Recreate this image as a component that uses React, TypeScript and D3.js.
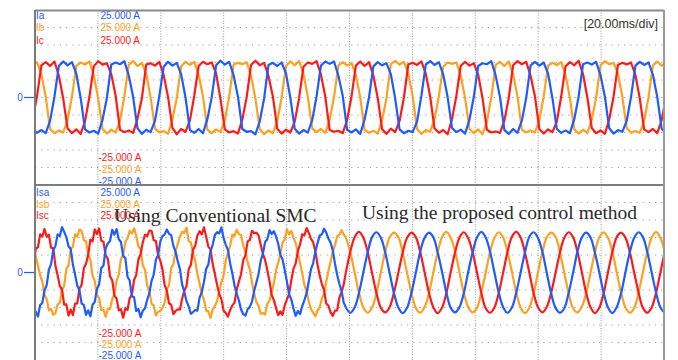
import * as d3 from "d3";

// scope screenshot: 20 ms/div, 10 divisions, +-25 A full scale per panel
const width = 678;
const height = 360;
const timeSpanMs = [0, 200];
const ampRange = [-25, 25];
const sampleIntervalMs = 1000 / 720; // 12 samples per 60 Hz cycle
const smcIntervalMs = sampleIntervalMs / 2; // noisy part sampled finer
const topStartMs = -0.75;
const bottomStartMs = -1.14;
const switchIndex = 72; // conventional SMC -> proposed control (in 12/cycle samples)

const blue = "#1f5bff";
const orange = "#ffa01e";
const red = "#ff1a1a";

const topNames = ["Ia", "Ib", "Ic"];
const bottomNames = ["Isa", "Isb", "Isc"];
const rangeLabel = "25.000 A";
const timeLabel = "[20.00ms/div]";
const noteLeft = "Using Conventional SMC";
const noteRight = "Using the proposed control method";

// load currents (A)
const iaTop = [
  -9.0, -10.1, -9.3, -10.2, -6.6,
  0.3, 9.0, 10.3, 9.2, 10.1, 6.8, -0.2, -9.1, -10.0, -9.5, -10.3, -6.4,
  -0.1, 9.4, 10.0, 9.5, 10.4, 6.3, 0.2, -8.8, -10.4, -9.2, -9.9, -6.7,
  0.4, 8.8, 10.2, 9.1, 9.9, 6.6, 0.0, -9.3, -10.1, -9.0, -10.2, -6.2,
  0.1, 9.2, 10.5, 9.4, 10.2, 6.4, 0.3, -9.0, -9.8, -9.6, -10.5, -6.8,
  -0.2, 9.3, 9.9, 9.0, 10.0, 6.9, -0.1, -8.9, -10.3, -9.3, -10.0, -6.5,
  0.3, 9.1, 10.3, 9.6, 10.3, 6.2, 0.4, -9.2, -10.0, -9.1, -10.4, -6.3,
  0.0, 8.9, 10.1, 9.2, 9.8, 6.7, -0.3, -9.1, -10.2, -9.5, -9.9, -6.9,
  0.5, 9.4, 10.4, 9.3, 10.1, 6.5, 0.2, -8.7, -9.9, -9.2, -10.3, -6.4,
  0.2, 9.0, 9.8, 9.5, 10.4, 6.3, 0.1, -9.3, -10.4, -9.0, -10.1, -6.6,
  -0.1, 9.2, 10.2, 9.1, 10.0, 6.8, -0.2, -9.0, -10.1, -9.4, -10.2, -6.2,
  0.3, 9.5, 10.0, 9.4, 10.2, 6.4, 0.3, -8.8, -10.3, -9.3, -9.8, -6.7,
  0.2, 9.1, 10.2, 9.3, 10.0, 6.5, 0.1, -8.9, -10.2,
];
const ibTop = [
  9.2, 10.1, 6.6, 0.2, -9.0, -10.2, -9.4, -10.0, -6.4,
  0.2, 9.1, 10.0, 9.4, 10.3, 6.3, -0.2, -9.0, -10.3, -9.2, -10.0, -6.7,
  0.4, 9.3, 10.4, 9.0, 9.9, 6.8, 0.1, -8.9, -10.0, -9.6, -10.4, -6.3,
  -0.1, 8.9, 10.2, 9.3, 10.2, 6.5, 0.3, -9.2, -10.2, -9.1, -9.9, -6.5,
  0.3, 9.4, 9.9, 9.5, 10.1, 6.2, -0.3, -9.1, -10.5, -9.4, -10.2, -6.8,
  0.0, 9.0, 10.3, 9.2, 10.4, 6.7, 0.2, -8.8, -9.9, -9.0, -10.1, -6.4,
  0.2, 9.2, 10.1, 9.1, 9.8, 6.4, 0.0, -9.3, -10.1, -9.5, -10.3, -6.6,
  -0.2, 9.5, 10.5, 9.4, 10.2, 6.9, 0.4, -9.0, -10.4, -9.3, -9.8, -6.2,
  0.4, 8.8, 10.0, 9.6, 10.0, 6.3, -0.1, -8.9, -10.2, -9.1, -10.5, -6.9,
  0.1, 9.3, 10.2, 9.0, 10.3, 6.6, 0.3, -9.2, -10.0, -9.4, -10.0, -6.5,
  0.3, 9.1, 9.9, 9.3, 10.1, 6.5, -0.2, -9.1, -10.3, -9.2, -10.2, -6.3,
  -0.1, 9.2, 10.4, 9.5, 9.9, 6.8, 0.2, -8.7, -10.1, -9.6, -10.1, -6.7,
  0.1, 9.2, 10.3, 9.1, 10.0,
];
const icTop = [
  -6.3,
  0.4, 9.2, 10.1, 9.0, 10.3, 6.2, -0.3, -8.8, -10.2, -9.1, -10.4, -6.8,
  0.2, 8.9, 10.4, 9.4, 9.8, 6.7, 0.5, -9.2, -9.9, -9.4, -10.1, -6.1,
  -0.3, 9.4, 9.8, 9.1, 10.2, 6.4, 0.1, -8.7, -10.5, -9.0, -9.8, -6.6,
  0.5, 9.0, 10.2, 9.5, 10.0, 6.9, -0.4, -9.1, -10.0, -9.6, -10.3, -6.3,
  0.1, 9.3, 10.5, 9.2, 9.9, 6.1, 0.3, -8.9, -10.3, -9.2, -10.0, -6.9,
  -0.2, 8.8, 10.0, 9.6, 10.4, 6.6, 0.2, -9.3, -9.8, -9.5, -10.2, -6.4,
  0.3, 9.1, 10.3, 9.0, 10.1, 6.3, -0.1, -9.0, -10.4, -8.9, -9.9, -6.7,
  0.0, 9.5, 9.9, 9.3, 10.3, 6.8, 0.4, -8.8, -10.1, -9.3, -10.5, -6.2,
  0.4, 9.0, 10.2, 9.1, 9.8, 6.5, -0.2, -9.2, -10.0, -9.7, -10.1, -6.6,
  -0.1, 9.2, 10.4, 9.5, 10.2, 6.2, 0.3, -9.0, -10.3, -9.1, -9.9, -6.9,
  0.2, 8.9, 10.1, 9.2, 10.5, 6.7, 0.0, -8.7, -10.2, -9.4, -10.4, -6.3,
  0.3, 9.3, 9.9, 9.4, 10.0, 6.4, -0.3, -9.1, -9.9, -9.0, -10.2, -6.5,
  0.1,
];

// source currents (A) under conventional SMC, 24 samples per cycle
const isaSmc = [
  -9.4, -12.0, -11.2, -12.6, -9.3, -8.7, -5.1, -3.6,
  0.8, 2.4, 6.4, 7.6, 10.9, 10.4, 13.0, 11.6, 10.1, 7.5, 6.7, 2.2, -0.6, -3.8, -5.1, -8.9, -9.3, -12.1, -10.8, -12.5, -9.2, -8.4, -4.7, -3.4,
  1.3, 2.0, 6.9, 8.3, 9.0, 12.2, 10.8, 12.4, 9.5, 8.7, 4.8, 4.1, -1.2, -2.3, -6.8, -7.1, -11.0, -10.4, -12.8, -10.9, -10.2, -7.8, -5.9, -2.4,
  -0.6, 3.7, 4.9, 8.9, 10.4, 10.9, 12.3, 11.1, 10.6, 7.6, 5.9, 3.2, 1.0, -3.4, -5.5, -8.2, -9.7, -11.8, -11.3, -10.7, -10.9, -7.2, -5.6, -2.7,
  1.0, 2.3, 6.1, 7.9, 10.7, 11.5, 11.2, 12.9, 9.8, 7.9, 6.4, 2.6, -0.3, -3.7, -6.0, -8.0, -10.6, -11.9, -12.3, -10.5, -9.8, -8.3, -5.2, -2.9,
  -0.4, 3.4, 5.4, 8.7, 9.5, 12.1, 11.0, 11.8, 10.3, 8.2, 5.0, 3.7, 0.6, -2.6, -6.3, -7.7, -10.3, -12.4, -11.0, -11.9, -9.6, -7.9, -5.9, -2.5,
  0.9, 2.7, 6.0, 8.4, 10.6, 10.9, 12.5, 11.4, 9.7, 8.5, 6.3, 2.5, -0.7, -3.2, -5.3, -8.6, -10.0,
];
const isbSmc = [
  9.1, 7.2, 4.6, 1.9, -0.8, -2.5, -6.4, -7.6, -10.8, -10.4, -12.1, -11.6, -9.1, -8.7, -5.0, -3.8,
  1.1, 2.0, 6.7, 7.4, 10.9, 10.2, 12.3, 11.8, 9.3, 8.9, 5.1, 3.6, -1.0, -2.4, -6.5, -7.3, -10.7, -10.6, -12.7, -10.3, -10.4, -7.6, -6.2, -2.3,
  -0.6, 3.9, 5.0, 8.8, 9.7, 11.9, 11.1, 12.6, 10.5, 7.3, 6.8, 2.1, 0.8, -3.7, -5.2, -8.9, -9.4, -12.3, -11.2, -11.0, -10.1, -8.7, -4.8, -3.7,
  1.3, 2.4, 6.2, 8.1, 10.2, 11.7, 11.3, 12.8, 9.0, 8.6, 5.5, 3.3, -0.5, -3.1, -6.1, -7.8, -10.9, -11.1, -13.0, -10.6, -9.5, -8.2, -5.4, -2.8,
  -0.8, 3.5, 5.6, 7.7, 10.8, 10.5, 12.2, 11.0, 10.7, 7.7, 6.0, 2.9, 0.9, -2.9, -5.9, -8.4, -9.6, -11.8, -11.6, -12.0, -9.0, -8.0, -5.7, -3.1,
  0.7, 2.8, 5.3, 8.6, 9.4, 12.4, 10.9, 11.9, 9.9, 8.4, 5.7, 2.7, -0.2, -3.6, -5.4, -8.3, -10.4, -11.5, -12.5, -10.8, -10.0, -7.4, -6.0, -2.6,
  0.5, 3.1, 5.9, 7.9, 10.3, 10.8, 12.1, 10.9, 10.0,
];
const iscSmc = [
  0.6, 2.1, 6.8, 7.2, 10.9, 10.3, 12.4, 10.2, 10.8, 7.1, 6.9, 1.9, -0.8, -3.9, -4.8, -9.2, -9.1, -12.3, -10.6, -12.2, -8.9, -8.8, -4.6, -3.5,
  1.2, 2.5, 5.1, 9.4, 8.9, 12.3, 11.0, 12.6, 9.1, 8.8, 4.9, 3.9, -1.1, -2.2, -6.6, -7.4, -10.8, -10.5, -12.9, -10.2, -10.7, -7.3, -6.4, -2.1,
  -0.7, 3.8, 5.2, 8.6, 10.8, 10.4, 12.0, 11.9, 9.2, 9.0, 5.0, 3.4, 0.9, -3.6, -5.1, -8.8, -9.2, -11.9, -11.0, -10.5, -10.6, -7.5, -5.2, -3.9,
  0.9, 2.2, 6.5, 7.6, 10.6, 11.8, 10.9, 12.9, 10.3, 7.4, 6.6, 2.4, -0.4, -3.5, -6.2, -7.6, -10.9, -11.6, -12.6, -10.7, -9.4, -8.6, -4.9, -2.6,
  -0.5, 3.6, 4.9, 8.9, 9.3, 11.9, 11.2, 11.4, 10.6, 7.9, 5.2, 3.6, 0.7, -2.4, -6.4, -7.9, -10.1, -12.2, -11.1, -12.1, -9.3, -7.7, -6.1, -2.2,
  1.1, 2.6, 6.2, 8.0, 10.9, 10.6, 12.7, 11.3, 9.6, 8.7, 6.1, 2.3, -0.9, -3.3, -5.0, -8.9, -9.5, -11.4, -12.4, -10.9, -10.8, -7.2, -5.6, -3.4,
  0.1,
];

// source currents (A) under the proposed control, 12 samples per cycle
const isaProp = [
  -10.0, -11.5, -10.0, -5.8,
  0.1, 5.8, 10.1, 11.5, 9.9, 5.7, -0.1, -5.9, -10.0, -11.6, -10.1, -5.8,
  -0.1, 5.9, 9.9, 11.4, 10.1, 5.8, 0.2, -5.7, -10.1, -11.4, -9.9, -5.9,
  0.2, 5.7, 10.0, 11.6, 10.0, 5.9, 0.0, -5.8, -9.9, -11.5, -10.0, -5.7,
  0.0, 5.8, 10.2, 11.5, 9.8, 5.8, -0.2, -6.0, -10.1, -11.5, -10.2, -5.8,
  -0.1, 5.9, 10.0, 11.4, 10.0, 5.7, 0.1, -5.8, -10.0, -11.6, -9.9, -5.9,
  0.1, 5.8, 9.9, 11.5, 10.1, 5.8, 0.0, -5.7, -10.0, -11.5,
];
const isbProp = [
  10.0, 5.8, 0.0, -5.8, -10.0, -11.5, -10.0, -5.8,
  0.1, 5.9, 10.0, 11.4, 10.1, 5.7, -0.1, -5.8, -10.1, -11.5, -9.9, -5.9,
  -0.1, 5.7, 10.1, 11.6, 9.9, 5.9, 0.1, -5.9, -9.9, -11.4, -10.1, -5.7,
  0.0, 5.8, 9.9, 11.5, 10.0, 5.8, 0.2, -5.7, -10.0, -11.6, -10.0, -5.8,
  0.2, 5.9, 10.1, 11.4, 10.2, 5.7, -0.1, -5.9, -10.2, -11.4, -9.8, -5.9,
  -0.1, 5.7, 10.0, 11.5, 9.9, 5.9, 0.0, -5.8, -10.0, -11.5, -10.1, -5.7,
  0.1, 5.8, 10.0, 11.6, 9.9, 5.8,
];
const iscProp = [
  0.1, 5.9, 10.1, 11.6, 9.9, 5.7, -0.2, -5.9, -10.1, -11.4, -9.9, -5.7,
  -0.1, 5.7, 9.9, 11.4, 10.1, 5.9, 0.1, -5.7, -9.9, -11.6, -10.1, -5.9,
  0.2, 5.8, 10.0, 11.5, 9.8, 5.8, 0.0, -5.8, -10.2, -11.5, -10.0, -5.8,
  0.0, 5.9, 10.2, 11.6, 10.0, 5.6, -0.1, -6.0, -10.0, -11.4, -9.8, -5.7,
  -0.1, 5.7, 9.9, 11.5, 10.1, 5.9, 0.2, -5.8, -9.9, -11.6, -10.1, -5.9,
  0.1, 5.8, 10.1, 11.4, 9.9, 5.8, -0.1, -5.7, -10.1, -11.5, -10.0, -5.8,
  0.0, 5.9,
];

const sansFont = "'Liberation Sans', Arial, sans-serif";
const serifFont = "'Liberation Serif', 'Times New Roman', serif";

const x = d3.scaleLinear().domain(timeSpanMs).range([35, 664]);
const yTop = d3.scaleLinear().domain(ampRange).range([185, 10]);
const yBot = d3.scaleLinear().domain(ampRange).range([360, 185]);

const linePath = (
  values: number[],
  y: d3.ScaleLinear<number, number>,
  startMs: number,
  stepMs: number,
  curve: d3.CurveFactory
) =>
  d3
    .line<number>()
    .x((_, i) => x(startMs + i * stepMs))
    .y((d) => y(d))
    .curve(curve)(values) ?? "";

const Grid = ({ y }: { y: d3.ScaleLinear<number, number> }) => {
  const [y0, y1] = y.range();
  const vTicks = x.ticks(10).slice(1, -1);
  const hTicks = y.ticks(10).slice(1, -1);
  return (
    <g>
      {vTicks.map((t) => (
        <line key={"v" + t} x1={x(t)} x2={x(t)} y1={y1} y2={y0}
          stroke="#9a9a9a" strokeWidth={1} strokeDasharray="1 1.6" />
      ))}
      {hTicks.map((t) => (
        <line key={"h" + t} x1={x(0)} x2={x(200)} y1={y(t)} y2={y(t)}
          stroke="#a0a0a0" strokeWidth={1.2} strokeDasharray="1.2 5" />
      ))}
    </g>
  );
};

const Labels = ({ y, names, topY, bottomY }: {
  y: d3.ScaleLinear<number, number>; names: string[]; topY: number[]; bottomY: number[];
}) => {
  const colors = [blue, orange, red];
  return (
    <g fontFamily={sansFont} fontSize={10} dominantBaseline="central">
      {names.map((n, i) => (
        <text key={n} x={36} y={topY[i]} fill={colors[i]}>{n}</text>
      ))}
      {names.map((n, i) => (
        <text key={"p" + n} x={100.5} y={topY[i]} fill={colors[i]}>{rangeLabel}</text>
      ))}
      {[red, orange, blue].map((c, i) => (
        <text key={"n" + i} x={98.5} y={bottomY[i]} fill={c}>{"-" + rangeLabel}</text>
      ))}
      <text x={20} y={y(0)} fill={blue} textAnchor="middle">0</text>
      <line x1={24} x2={35} y1={y(0)} y2={y(0)} stroke={blue} strokeWidth={1.2} />
    </g>
  );
};

export default function App() {
  const topSeries = [
    { values: ibTop, color: orange },
    { values: icTop, color: red },
    { values: iaTop, color: blue },
  ];
  const propStartMs = bottomStartMs + switchIndex * sampleIntervalMs;
  const botSeries = [
    { smc: isbSmc, prop: isbProp, color: orange },
    { smc: iscSmc, prop: iscProp, color: red },
    { smc: isaSmc, prop: isaProp, color: blue },
  ];

  return (
    <svg width={width} height={height} style={{ position: "absolute", left: 0, top: 0, background: "#fff" }}>
      <defs>
        <clipPath id="clipTop"><rect x={35} y={10} width={629} height={175} /></clipPath>
        <clipPath id="clipBot"><rect x={35} y={185} width={629} height={175} /></clipPath>
      </defs>
      <rect width={width} height={height} fill="#fff" />

      <Grid y={yTop} />
      <Grid y={yBot} />

      <g clipPath="url(#clipTop)" fill="none" strokeWidth={2.2} strokeLinejoin="round">
        {topSeries.map((s, i) => (
          <path key={i} d={linePath(s.values, yTop, topStartMs, sampleIntervalMs, d3.curveLinear)} stroke={s.color} />
        ))}
      </g>
      <g clipPath="url(#clipBot)" fill="none" strokeWidth={2.2} strokeLinejoin="round">
        {botSeries.map((s, i) => (
          <g key={i} stroke={s.color}>
            <path d={linePath(s.smc, yBot, bottomStartMs, smcIntervalMs, d3.curveLinear)} />
            <path d={linePath(s.prop, yBot, propStartMs, sampleIntervalMs, d3.curveCatmullRom)} />
          </g>
        ))}
      </g>

      <Labels y={yTop} names={topNames} topY={[15, 27.5, 40]} bottomY={[157, 169, 181]} />
      <Labels y={yBot} names={bottomNames} topY={[192.5, 204, 215.5]} bottomY={[333, 344, 355]} />

      <text x={658} y={28} textAnchor="end" fontFamily={sansFont} fontSize={12.5} fill="#333">{timeLabel}</text>
      <text x={114} y={222} fontFamily={serifFont} fontSize={19.5} fill="#2a2a2a">{noteLeft}</text>
      <text x={362} y={219} fontFamily={serifFont} fontSize={19.5} fill="#2a2a2a">{noteRight}</text>

      <line x1={35} x2={664} y1={10.5} y2={10.5} stroke="#8a8a8a" strokeWidth={2} />
      <line x1={35} x2={664} y1={185} y2={185} stroke="#7d7d7d" strokeWidth={2} />
      <line x1={35} x2={35} y1={10} y2={360} stroke="#7a7a7a" strokeWidth={2} />
      <line x1={664} x2={664} y1={10} y2={360} stroke="#9a9a9a" strokeWidth={2} />
    </svg>
  );
}
